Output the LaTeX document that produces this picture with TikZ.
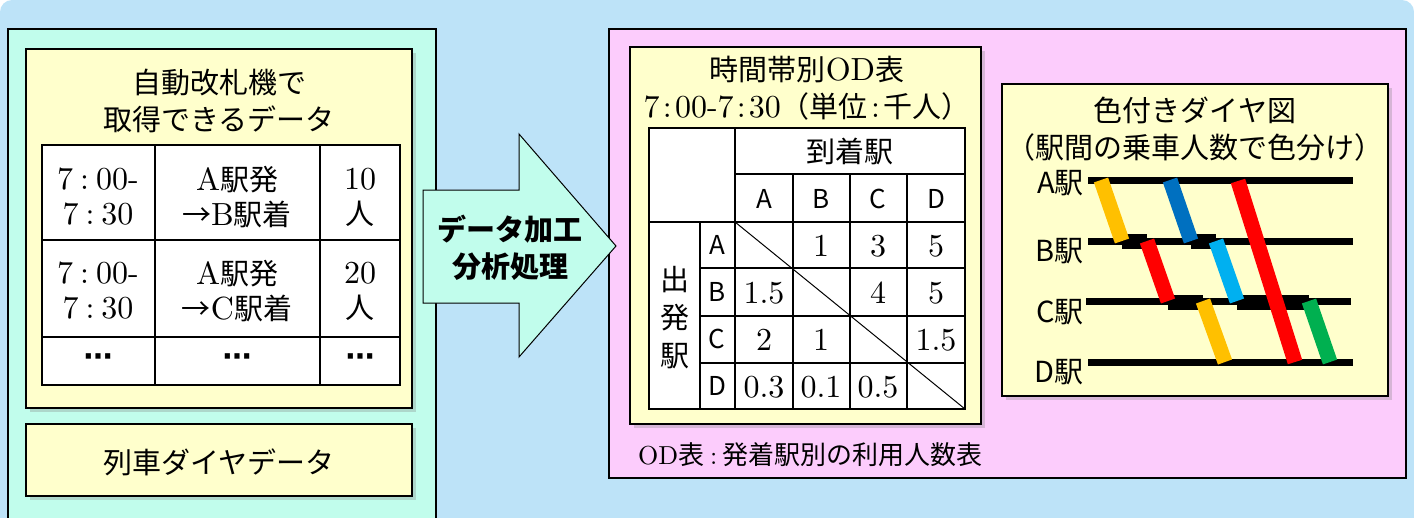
\documentclass[tikz,border=0pt]{standalone}
\usepackage{fontspec}
\setmainfont{lmroman10-regular}[Extension=.otf]
\newfontfamily\jp{Noto Sans CJK JP}
\newfontfamily\dotfont{DejaVu Sans Bold}
\usetikzlibrary{shadows}

\definecolor{skyblue}{RGB}{189,227,248}
\definecolor{mint}{RGB}{193,253,236}
\definecolor{cream}{RGB}{255,255,204}
\definecolor{pinkpanel}{RGB}{252,204,252}
\definecolor{trainyellow}{RGB}{255,192,0}
\definecolor{trainblue}{RGB}{0,112,192}
\definecolor{trainred}{RGB}{255,0,0}
\definecolor{traincyan}{RGB}{0,176,240}
\definecolor{traingreen}{RGB}{0,176,80}

\newcommand{\tcolon}[1][0.22em]{\hspace{#1}:\hspace{#1}}
\newcommand{\lat}[1]{{\rmfamily\fontsize{32}{37}\selectfont #1}}

\begin{document}
\begin{tikzpicture}[x=1pt, y=-1pt,
  frame/.style={draw=black, line width=1.5pt},
  card/.style={frame, fill=cream, drop shadow={shadow xshift=4pt, shadow yshift=-4pt, opacity=0.3}},
  cell/.style={line width=1.2pt},
  num/.style={inner sep=0pt, align=center, font=\fontsize{32}{35}\selectfont},
  bigjp/.style={inner sep=0pt, align=center, font=\jp\fontsize{29}{37}\selectfont},
  letter/.style={inner sep=0pt, font=\jp\fontsize{26}{30}\selectfont},
  rail/.style={line width=7pt},
  bar/.style={line width=15pt}]

\useasboundingbox (0,0) rectangle (1414,517);
\clip (0,0) rectangle (1414,517);
\fill[skyblue, rounded corners=12pt] (0,0) rectangle (1414,560);

% panels
\draw[frame, fill=mint] (8,29) rectangle (436,560);
\draw[frame, fill=pinkpanel] (609,29) rectangle (1406,478);

\draw[card] (26,49) rectangle (412,408);
\draw[card] (26,424) rectangle (412,496);
\draw[card] (630,47) rectangle (981,424);
\draw[card] (1002,84) rectangle (1388,396);

\coordinate (gate-title-label) at (219,101);
\coordinate (timetable-label) at (219,462);
\coordinate (process-label) at (510,248);
\coordinate (od-title-label) at (807,88);
\coordinate (od-note-label) at (638,455);
\coordinate (dia-title-label) at (1195,129);

\node (gate-title) [bigjp] at (gate-title-label) {自動改札機で\\取得できるデータ};
\node (timetable) [bigjp] at (timetable-label) {列車ダイヤデータ};
\node (od-title) [bigjp] at (od-title-label) {時間帯別\lat{OD}表\\\lat{7\tcolon[0.1em]00-7\tcolon[0.1em]30}（単位\lat{\tcolon[0.1em]}千人）};
\node (od-note) [bigjp, anchor=west, font=\jp\fontsize{26}{30}\selectfont] at (od-note-label) {{\rmfamily OD}表{\rmfamily\tcolon}発着駅別の利用人数表};
\node (dia-title) [bigjp] at (dia-title-label) {色付きダイヤ図\\（駅間の乗車人数で色分け）};

% gate data table
\draw[cell, fill=white] (42,145) rectangle (400,385);
\draw[cell] (155,145) -- (155,385);
\draw[cell] (320,145) -- (320,385);
\draw[cell] (42,240) -- (400,240);
\draw[cell] (42,337) -- (400,337);

\node (gate-time-1) [num] at (98,197) {7\tcolon00-\\7\tcolon30};
\node (gate-trip-1) [bigjp, font=\jp\fontsize{29}{35}\selectfont] at (237,197) {\lat{A}駅発\\→\lat{B}駅着};
\node (gate-count-1) [num] at (360,197) {10\\{\jp\fontsize{29}{35}\selectfont 人}};
\node (gate-time-2) [num] at (98,291) {7\tcolon00-\\7\tcolon30};
\node (gate-trip-2) [bigjp, font=\jp\fontsize{29}{35}\selectfont] at (237,291) {\lat{A}駅発\\→\lat{C}駅着};
\node (gate-count-2) [num] at (360,291) {20\\{\jp\fontsize{29}{35}\selectfont 人}};
\node (gate-more-1) [num, font=\dotfont\fontsize{29}{35}\selectfont] at (98,360) {⋯};
\node (gate-more-2) [num, font=\dotfont\fontsize{29}{35}\selectfont] at (237,360) {⋯};
\node (gate-more-3) [num, font=\dotfont\fontsize{29}{35}\selectfont] at (360,360) {⋯};

% process arrow
\draw[line width=1pt, fill=mint] (423,190) -- (519,190) -- (519,134) -- (616,246)
  -- (519,357) -- (519,303) -- (423,303) -- cycle;
\node (process) [bigjp, font=\jp\bfseries\fontsize{29}{37}\selectfont] at (process-label) {データ加工\\分析処理};

% OD table
\draw[cell, fill=white] (649,128) rectangle (965,409);
\draw[cell] (735,174) -- (965,174);
\draw[cell] (649,222) -- (965,222);
\draw[cell] (700,268) -- (965,268);
\draw[cell] (700,316) -- (965,316);
\draw[cell] (700,363) -- (965,363);
\draw[cell] (700,222) -- (700,409);
\draw[cell] (735,128) -- (735,409);
\draw[cell] (793,174) -- (793,409);
\draw[cell] (850,174) -- (850,409);
\draw[cell] (907,174) -- (907,409);
\draw[line width=1pt] (735,222) -- (965,409);

\node (od-arrive) [bigjp] at (850,151) {到着駅};
\node (od-depart) [bigjp, font=\jp\fontsize{29}{38}\selectfont] at (675,318) {出\\発\\駅};
\node (od-col-a) [letter] at (764,199) {A};
\node (od-col-b) [letter] at (821,199) {B};
\node (od-col-c) [letter] at (878,199) {C};
\node (od-col-d) [letter] at (936,199) {D};
\node (od-row-a) [letter] at (717,245) {A};
\node (od-row-b) [letter] at (717,292) {B};
\node (od-row-c) [letter] at (717,339) {C};
\node (od-row-d) [letter] at (717,386) {D};

\node (od-a-b) [num] at (821,246) {1};
\node (od-a-c) [num] at (878,246) {3};
\node (od-a-d) [num] at (936,246) {5};
\node (od-b-a) [num] at (764,293) {1.5};
\node (od-b-c) [num] at (878,293) {4};
\node (od-b-d) [num] at (936,293) {5};
\node (od-c-a) [num] at (764,340) {2};
\node (od-c-b) [num] at (821,340) {1};
\node (od-c-d) [num] at (936,340) {1.5};
\node (od-d-a) [num] at (764,387) {0.3};
\node (od-d-b) [num] at (821,387) {0.1};
\node (od-d-c) [num] at (878,387) {0.5};

% coloured timetable
\node (station-a) [letter, anchor=east, font=\jp\fontsize{29}{30}\selectfont] at (1084,183) {A駅};
\node (station-b) [letter, anchor=east, font=\jp\fontsize{29}{30}\selectfont] at (1084,251) {B駅};
\node (station-c) [letter, anchor=east, font=\jp\fontsize{29}{30}\selectfont] at (1084,312) {C駅};
\node (station-d) [letter, anchor=east, font=\jp\fontsize{29}{30}\selectfont] at (1084,372) {D駅};

\draw[rail] (1088,180) -- (1353,180);
\draw[rail] (1088,241) -- (1353,241);
\draw[rail] (1086,301) -- (1351,301);
\draw[rail] (1088,362) -- (1353,362);

\fill (1122,234) rectangle (1147,249);
\fill (1191,234) rectangle (1216,249);
\fill (1168,295) rectangle (1203,310);
\fill (1237,295) rectangle (1309,310);

\draw[bar, trainyellow] (1101,180) -- (1122,241);
\draw[bar, trainred] (1147,241) -- (1168,301);
\draw[bar, trainyellow] (1203,301) -- (1225,362);
\draw[bar, trainblue] (1170,180) -- (1191,241);
\draw[bar, traincyan] (1216,241) -- (1237,301);
\draw[bar, traingreen] (1309,301) -- (1330,362);
\draw[bar, trainred] (1238,181) -- (1295,362);

\end{tikzpicture}
\end{document}
